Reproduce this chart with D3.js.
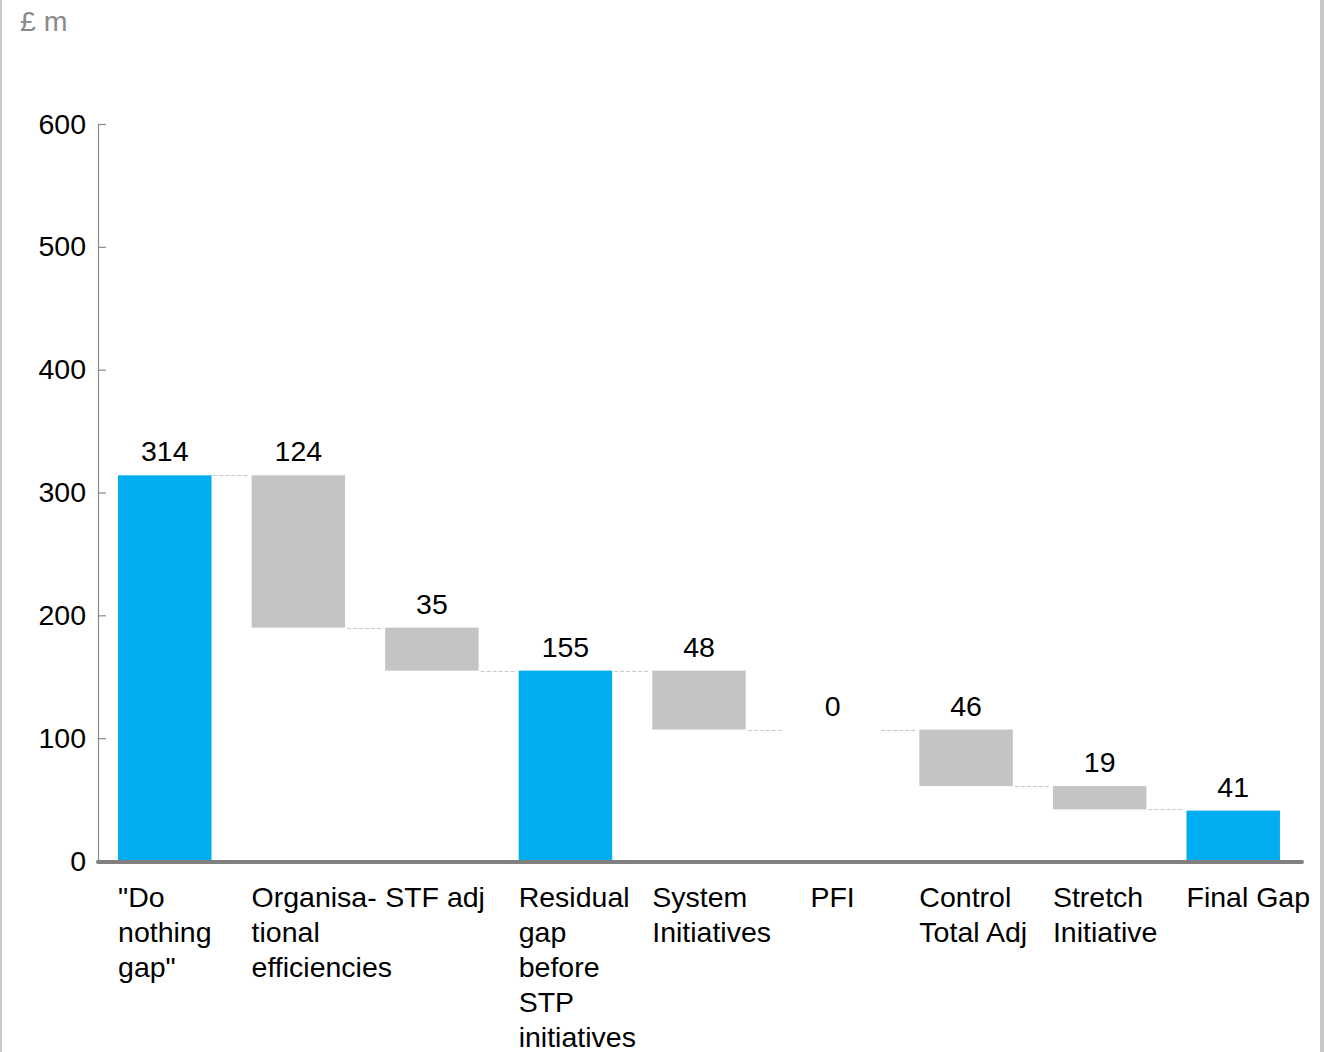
<!DOCTYPE html>
<html>
<head>
<meta charset="utf-8">
<script src="https://cdn.jsdelivr.net/npm/d3@7"></script>
<style>
  body { margin: 0; background: #fff; }
  text { font-family: "Liberation Sans", Arial, sans-serif; }
</style>
</head>
<body>
<svg width="1324" height="1052"></svg>
<script>
// waterfall data
var categories = ['"Do nothing gap"', "Organisational efficiencies", "STF adj", "Residual gap before STP initiatives",
  "System Initiatives", "PFI", "Control Total Adj", "Stretch Initiative", "Final Gap"];
var labelLines = [['"Do', "nothing", 'gap"'], ["Organisa-", "tional", "efficiencies"], ["STF adj"],
  ["Residual", "gap", "before", "STP", "initiatives"], ["System", "Initiatives"], ["PFI"],
  ["Control", "Total Adj"], ["Stretch", "Initiative"], ["Final Gap"]];
var values = [314, 124, 35, 155, 48, 0, 46, 19, 41];
var isTotal = [true, false, false, true, false, false, false, false, true];
var yTicks = [0, 100, 200, 300, 400, 500, 600];

var fs = "28.5px";
var svg = d3.select("svg");

// frame lines left and right
svg.append("rect").attr("x", 0).attr("y", 0).attr("width", 2).attr("height", 1052).style("fill", "#c8c8c8");
svg.append("rect").attr("x", 1320).attr("y", 0).attr("width", 4).attr("height", 1052).style("fill", "#c8c8c8");

var x = d3.scaleBand().domain(categories).range([98, 1300]).paddingInner(0.3).paddingOuter(0.15);
var y = d3.scaleLinear().domain([0, 600]).range([861, 124]);

// compute start / end of each step
var level = 0;
var steps = values.map(function(v, i) {
  var s;
  if (isTotal[i]) { s = { lo: 0, hi: v, end: v }; }
  else { s = { lo: level - v, hi: level, end: level - v }; }
  level = s.end;
  return s;
});

// unit label
svg.append("text").attr("x", 20).attr("y", 31).text("£ m")
  .style("font-size", fs).style("fill", "#8a8a8a");

// y axis
var yAxis = d3.axisLeft(y).tickValues(yTicks).tickSize(0).tickPadding(12);
var gy = svg.append("g").attr("transform", "translate(98,0)").call(yAxis);
gy.select(".domain").attr("stroke", "#8a8a8a").attr("stroke-width", 1.2);
gy.selectAll(".tick text").style("font-size", fs).style("fill", "#000").attr("font-family", null);
gy.selectAll(".tick").append("line").attr("x1", 0).attr("x2", 8).attr("stroke", "#8a8a8a").attr("stroke-width", 1.2);

// connectors
svg.selectAll("line.conn")
  .data(steps.slice(0, -1))
  .enter().append("line")
    .attr("class", "conn")
    .attr("x1", function(d, i) { return x(categories[i]) + x.bandwidth() + 2; })
    .attr("x2", function(d, i) { return x(categories[i + 1]) - 2; })
    .attr("y1", function(d) { return Math.round(y(d.end)) + 0.5; })
    .attr("y2", function(d) { return Math.round(y(d.end)) + 0.5; })
    .style("stroke", "#c8c8c8")
    .style("stroke-dasharray", "4,2");

// bars
svg.selectAll("rect.bar")
  .data(steps)
  .enter().append("rect")
    .attr("class", "bar")
    .attr("x", function(d, i) { return x(categories[i]); })
    .attr("width", x.bandwidth())
    .attr("y", function(d) { return y(d.hi); })
    .attr("height", function(d) { return y(d.lo) - y(d.hi); })
    .style("fill", function(d, i) { return isTotal[i] ? "#00aeef" : "#c4c4c4"; });

// value labels
svg.selectAll("text.val")
  .data(steps)
  .enter().append("text")
    .attr("class", "val")
    .attr("x", function(d, i) { return x(categories[i]) + x.bandwidth() / 2; })
    .attr("y", function(d) { return y(d.hi) - 14; })
    .attr("text-anchor", "middle")
    .style("font-size", fs)
    .text(function(d, i) { return values[i]; });

// x baseline
svg.append("line").attr("x1", 98).attr("x2", 1302).attr("y1", y(0) + 1).attr("y2", y(0) + 1)
  .style("stroke", "#808080").style("stroke-width", 4).style("stroke-linecap", "round");

// category labels
svg.selectAll("text.cat")
  .data(labelLines)
  .enter().append("text")
    .attr("class", "cat")
    .attr("x", function(d, i) { return values[i] === 0 ? x(categories[i]) + x.bandwidth() / 2 : x(categories[i]); })
    .attr("text-anchor", function(d, i) { return values[i] === 0 ? "middle" : "start"; })
    .attr("y", 907)
    .style("font-size", fs)
    .each(function(d) {
      var t = d3.select(this);
      d.forEach(function(line, j) {
        t.append("tspan").attr("x", t.attr("x")).attr("dy", j === 0 ? 0 : 35).text(line);
      });
    });
</script>
</body>
</html>
